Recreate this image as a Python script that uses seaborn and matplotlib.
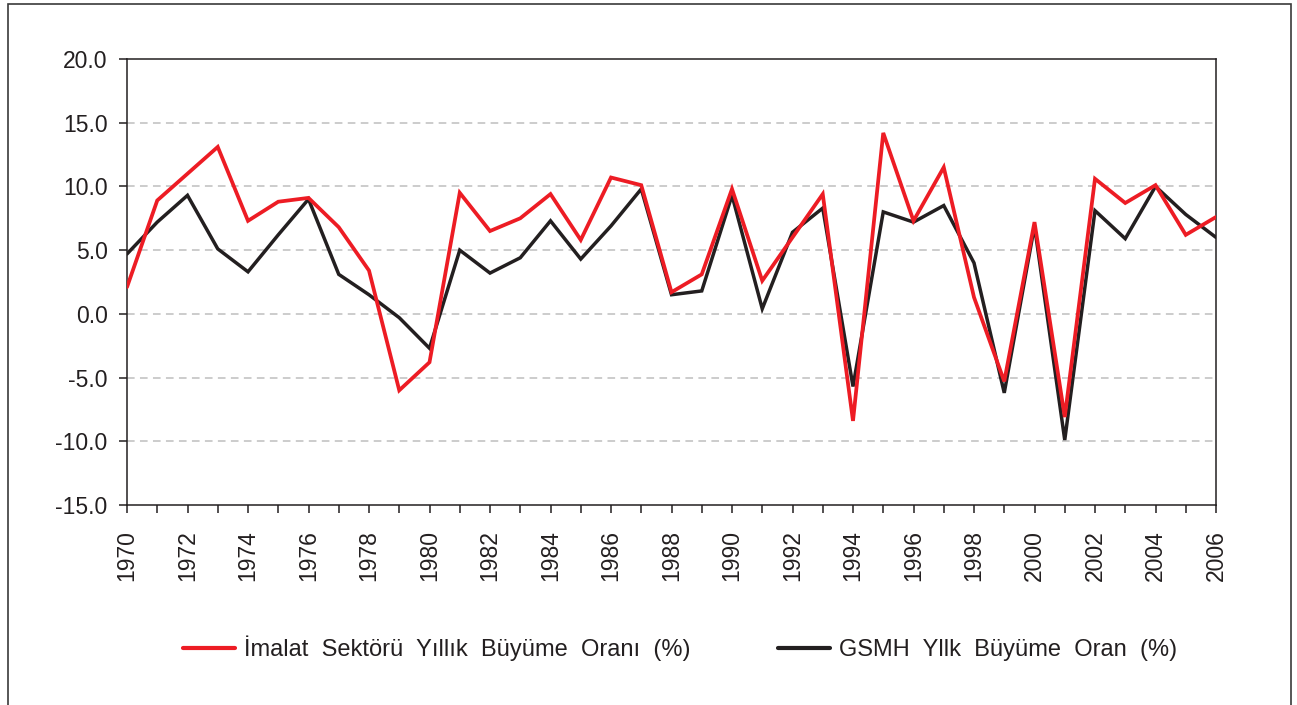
import numpy as np
import pandas as pd
import seaborn as sns
import matplotlib.pyplot as plt
from matplotlib.lines import Line2D
from matplotlib.patches import Rectangle

# Annual growth rates (%)
years = list(range(1970, 2007))
imalat = [2.1, 8.9, 11.0, 13.1, 7.3, 8.8, 9.1, 6.8, 3.4, -6.0,
          -3.8, 9.5, 6.5, 7.5, 9.4, 5.8, 10.7, 10.1, 1.7, 3.1,
          9.8, 2.6, 6.0, 9.4, -8.4, 14.2, 7.3, 11.5, 1.3, -5.3,
          7.2, -8.1, 10.6, 8.7, 10.1, 6.2, 7.6]
gsmh = [4.7, 7.2, 9.3, 5.1, 3.3, 6.2, 9.0, 3.1, 1.5, -0.3,
        -2.7, 5.0, 3.2, 4.4, 7.3, 4.3, 6.9, 9.8, 1.5, 1.8,
        9.3, 0.4, 6.4, 8.3, -5.7, 8.0, 7.2, 8.5, 4.0, -6.2,
        6.9, -9.9, 8.1, 5.9, 10.0, 7.8, 6.0]
series_names = ['İmalat Sektörü Yıllık Büyüme Oranı (%)', 'GSMH Yllk Büyüme Oran (%)']
yticks = [-15, -10, -5, 0, 5, 10, 15, 20]

RED = '#ED1C24'
BLACK = '#231F20'

df = pd.DataFrame({
    'year': years * 2,
    'value': imalat + gsmh,
    'series': [series_names[0]] * len(years) + [series_names[1]] * len(years),
})

sns.set_style('white')
plt.rcParams['font.family'] = ['Liberation Sans', 'DejaVu Sans']

fig = plt.figure(figsize=(12.97, 7.05), dpi=100)
ax = fig.add_axes([127 / 1297, 1 - 505 / 705, (1216 - 127) / 1297, (505 - 59) / 705])

# black first so the red line sits on top
sns.lineplot(data=df[df['series'] == series_names[1]], x='year', y='value', color=BLACK,
             linewidth=2.5, solid_joinstyle='miter', ax=ax, legend=False, zorder=3)
sns.lineplot(data=df[df['series'] == series_names[0]], x='year', y='value', color=RED,
             linewidth=2.7, solid_joinstyle='miter', ax=ax, legend=False, zorder=4)

ax.set_xlim(years[0], years[-1])
ax.set_ylim(-15, 20)
ax.set_yticks(yticks)
ax.set_yticklabels([f'{v:.1f}' for v in yticks])
ax.set_xticks(years)
ax.set_xticklabels([str(y) if y % 2 == 0 else '' for y in years], rotation=90)
ax.set_xlabel('')
ax.set_ylabel('')

for v in yticks[1:-1]:
    ax.axhline(v, color='#bfbfbf', linewidth=1.1, linestyle=(0, (5, 3.5)), zorder=1)

for s in ax.spines.values():
    s.set_visible(True)
    s.set_color(BLACK)
    s.set_linewidth(1.1)

ax.tick_params(axis='y', direction='out', length=6, width=1.1, color=BLACK,
               labelsize=16.5, labelcolor=BLACK, pad=8, left=True)
ax.tick_params(axis='x', direction='out', length=6, width=1.1, color=BLACK,
               labelsize=16.5, labelcolor=BLACK, pad=12, bottom=True)

# the original legend uses wide word spacing
legend_labels = [name.replace(' ', '  ') for name in series_names]
handles = [Line2D([0], [0], color=RED, linewidth=3),
           Line2D([0], [0], color=BLACK, linewidth=3)]
fig.legend(handles, legend_labels, loc='center', ncol=2, frameon=False,
           bbox_to_anchor=(680 / 1297, 1 - 648 / 705), fontsize=17,
           handlelength=2.2, handletextpad=0.4, columnspacing=3.7,
           labelcolor=BLACK)

# outer frame around the whole chart
fig.patches.append(Rectangle((7.5 / 1297, -0.05), (1291 - 7.5) / 1297, 1 - 3.5 / 705 + 0.05,
                             transform=fig.transFigure, fill=False,
                             edgecolor='#3a3a3a', linewidth=1.2, clip_on=False))

fig.savefig('out.png', dpi=100)
